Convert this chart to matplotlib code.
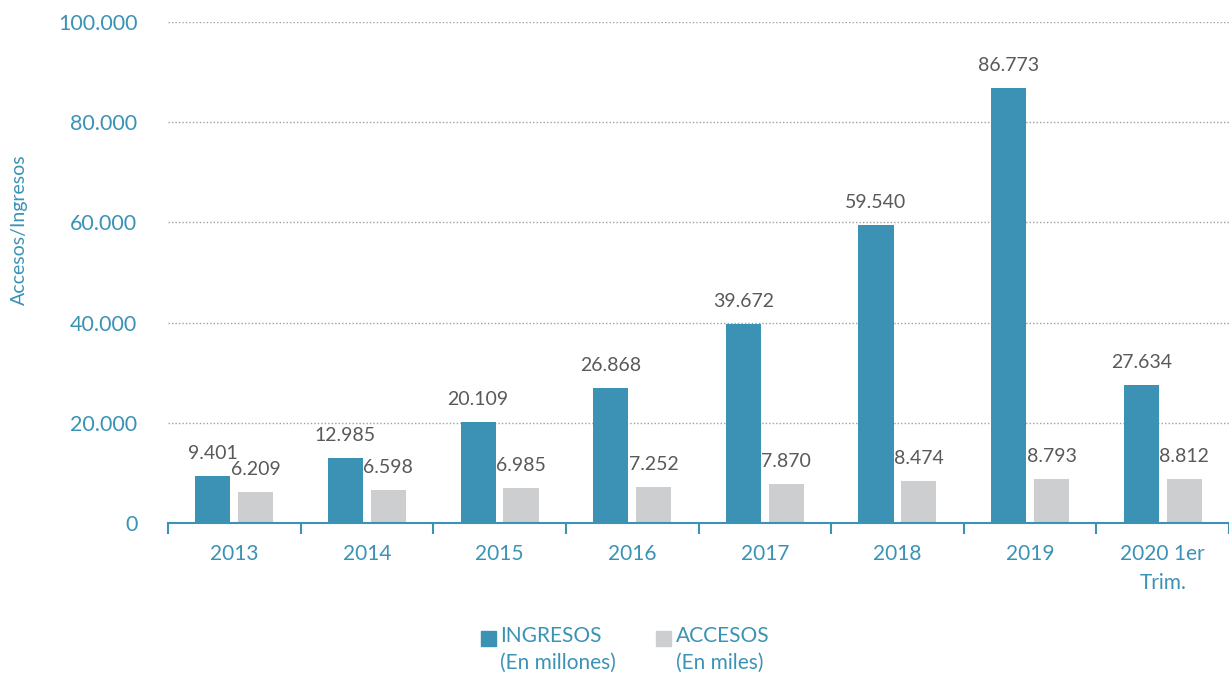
import matplotlib.pyplot as plt
from matplotlib import ticker
from matplotlib.patches import Rectangle
import numpy as np

plt.rcParams['font.family'] = ['Lato', 'DejaVu Sans']

categories = ["2013", "2014", "2015", "2016", "2017", "2018", "2019", "2020 1er\nTrim."]
ingresos = [9401, 12985, 20109, 26868, 39672, 59540, 86773, 27634]
accesos = [6209, 6598, 6985, 7252, 7870, 8474, 8793, 8812]
series_names = ["INGRESOS\n(En millones)", "ACCESOS\n(En miles)"]

blue = "#3B92B5"
gray = "#CDCED0"
label_gray = "#595959"
text_blue = "#3A93B5"

fig = plt.figure(figsize=(12.29, 6.79), dpi=100)
ax = fig.add_axes([0.1367, 0.2298, 0.8633, 0.7378])

x = np.arange(len(categories))
off = 0.162
w = 0.265
b1 = ax.bar(x - off, ingresos, w, color=blue, zorder=3)
b2 = ax.bar(x + off, accesos, w, color=gray, zorder=3)

fmt = lambda v: f"{v:,.0f}".replace(",", ".")

for bars, vals in [(b1, ingresos), (b2, accesos)]:
    for rect, v in zip(bars, vals):
        ax.annotate(fmt(v), (rect.get_x() + rect.get_width() / 2, v), xytext=(0, 14),
                    textcoords="offset pixels", ha="center", va="bottom",
                    fontsize=14, color=label_gray)

ax.set_xlim(-0.5, len(categories) - 0.5)
ax.set_ylim(0, 100000)
ax.yaxis.set_major_locator(ticker.MultipleLocator(20000))
ax.yaxis.set_major_formatter(ticker.FuncFormatter(lambda v, p: fmt(v)))
ax.grid(axis="y", linestyle=(0, (1, 1.5)), color="#A0A0A0", linewidth=1, zorder=0)

ax.set_xticks(x)
ax.set_xticklabels(categories, linespacing=1.6)
ax.set_xticks(np.arange(-0.5, len(categories)), minor=True)
ax.tick_params(axis="x", which="major", length=0, pad=15, labelsize=15, labelcolor=text_blue)
ax.tick_params(axis="x", which="minor", length=8, width=1.5, color=blue, direction="out")
ax.tick_params(axis="y", length=0, pad=22, labelsize=15.5, labelcolor=text_blue)

for s in ["top", "right", "left"]:
    ax.spines[s].set_visible(False)
ax.spines["bottom"].set_color(blue)
ax.spines["bottom"].set_linewidth(1.5)
ax.spines["bottom"].set_zorder(4)

fig.text(0.016, 0.661, "Accesos/Ingresos", rotation=90, ha="center", va="center",
         fontsize=14, color=text_blue)

# legend drawn by hand so the square sits on the first line
W, H = 1229, 679
for (sx, tx), col, name in zip([(481, 500), (656, 676)], [blue, gray], series_names):
    fig.patches.append(Rectangle((sx / W, 1 - 646 / H), 15 / W, 15 / H, color=col,
                                 transform=fig.transFigure, figure=fig))
    fig.text(tx / W, 1 - 626 / H, name, ha="left", va="top", fontsize=15,
             color=text_blue, linespacing=1.45)

fig.savefig("out.png", dpi=100)
